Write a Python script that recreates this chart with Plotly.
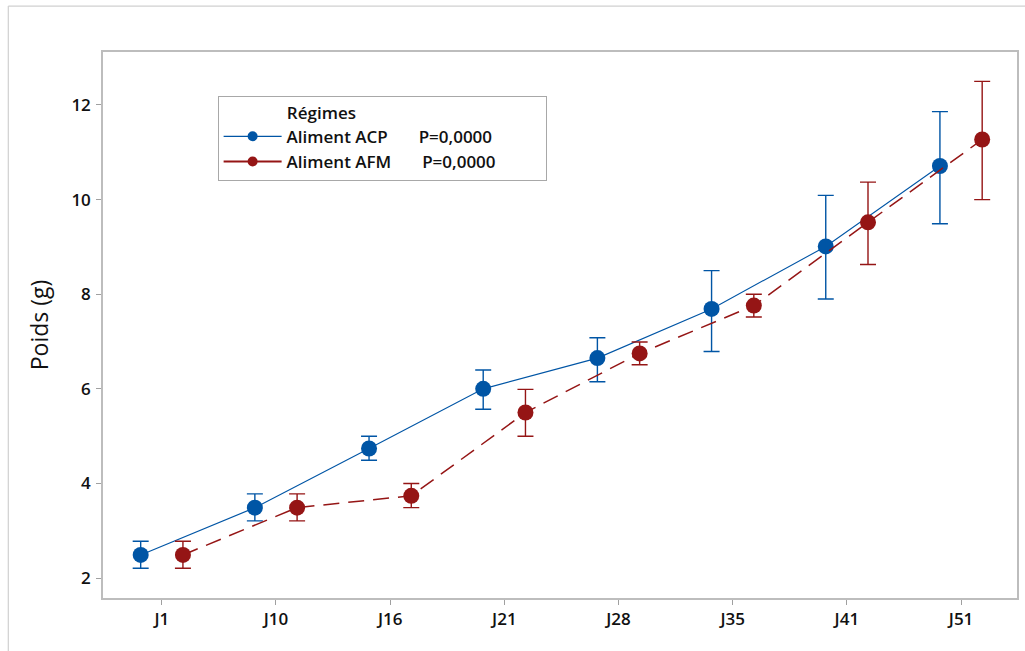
import plotly.graph_objects as go

# Sampling days
jours = ["J1", "J10", "J16", "J21", "J28", "J35", "J41", "J51"]

# Mean body weight (g) and interval bounds for each diet
acp_moy = [2.49, 3.49, 4.74, 6.00, 6.65, 7.69, 9.01, 10.71]
acp_haut = [2.78, 3.78, 5.00, 6.40, 7.08, 8.50, 10.09, 11.86]
acp_bas = [2.21, 3.21, 4.49, 5.57, 6.15, 6.79, 7.90, 9.49]

afm_moy = [2.49, 3.49, 3.74, 5.50, 6.75, 7.76, 9.52, 11.27]
afm_haut = [2.78, 3.78, 4.00, 5.99, 6.99, 8.00, 10.37, 12.50]
afm_bas = [2.21, 3.21, 3.49, 5.00, 6.51, 7.52, 8.63, 10.00]

y_ticks = [2, 4, 6, 8, 10, 12]

BLEU = "#0055A5"
ROUGE = "#951515"
NBSP = "\u00a0"

FONT = "Open Sans"
TXT = "#111111"


def intervalle(moy, haut, bas):
    return dict(
        type="data",
        symmetric=False,
        array=[h - m for h, m in zip(haut, moy)],
        arrayminus=[m - b for m, b in zip(moy, bas)],
        thickness=1.4,
        width=8,
    )


fig = go.Figure()

# Interval plot: means joined per diet, dodged within each day
fig.add_trace(go.Scatter(
    x=jours, y=acp_moy,
    mode="lines+markers",
    offsetgroup="acp",
    showlegend=False,
    line=dict(color=BLEU, width=1.1),
    marker=dict(color=BLEU, size=16),
    error_y=dict(color=BLEU, **intervalle(acp_moy, acp_haut, acp_bas)),
))

fig.add_trace(go.Scatter(
    x=jours, y=afm_moy,
    mode="lines+markers",
    offsetgroup="afm",
    showlegend=False,
    line=dict(color=ROUGE, width=1.5, dash="16px,9px"),
    marker=dict(color=ROUGE, size=16),
    error_y=dict(color=ROUGE, **intervalle(afm_moy, afm_haut, afm_bas)),
))

# Legend keys (smaller symbols, solid key lines)
fig.add_trace(go.Scatter(
    x=[None], y=[None],
    mode="lines+markers",
    offsetgroup="acp",
    name="Aliment ACP" + NBSP * 7 + "P=0,0000",
    line=dict(color=BLEU, width=1.1),
    marker=dict(color=BLEU, size=10),
))
fig.add_trace(go.Scatter(
    x=[None], y=[None],
    mode="lines+markers",
    offsetgroup="afm",
    name="Aliment AFM" + NBSP * 7 + "P=0,0000" + NBSP * 10,
    line=dict(color=ROUGE, width=2),
    marker=dict(color=ROUGE, size=10),
))

# Outer frame of the graph window
frame = "#D0D0D0"
fig.add_shape(type="line", xref="paper", yref="paper",
              x0=-0.1036, x1=1.01, y0=1.0842, y1=1.0842,
              line=dict(color=frame, width=1.2))
fig.add_shape(type="line", xref="paper", yref="paper",
              x0=-0.1036, x1=-0.1036, y0=-0.1, y1=1.0842,
              line=dict(color=frame, width=1.2))

fig.update_layout(
    width=1025,
    height=651,
    margin=dict(l=103, r=6, t=52, b=53),
    paper_bgcolor="white",
    plot_bgcolor="white",
    scattermode="group",
    scattergap=0.26,
    font=dict(family=FONT, color=TXT),
    showlegend=True,
    legend=dict(
        x=0.1254, y=0.92, xanchor="left", yanchor="top",
        bgcolor="white",
        bordercolor="#A8A8A8", borderwidth=1,
        font=dict(family=FONT, size=17, weight=600, color=TXT),
        title=dict(text=NBSP * 15 + "Régimes",
                   font=dict(family=FONT, size=17, weight=600, color=TXT)),
        itemwidth=58,
        tracegroupgap=0,
    ),
    xaxis=dict(
        type="category",
        categoryorder="array",
        categoryarray=jours,
        range=[-0.515, 7.49],
        showgrid=False,
        zeroline=False,
        showline=True, linecolor="#BDBDBD", linewidth=1.5, mirror=True,
        ticks="outside", ticklen=5, tickcolor="#A0A0A0", tickwidth=1,
        tickfont=dict(family=FONT, size=17, weight=600, color=TXT),
    ),
    yaxis=dict(
        range=[1.58, 13.12],
        tickvals=y_ticks,
        showgrid=False,
        zeroline=False,
        showline=True, linecolor="#BDBDBD", linewidth=1.5, mirror=True,
        ticks="outside", ticklen=5, tickcolor="#A0A0A0", tickwidth=1,
        ticklabelstandoff=2,
        tickfont=dict(family=FONT, size=17, weight=600, color=TXT),
        title=dict(text="Poids (g)", standoff=16,
                   font=dict(family=FONT, size=23, weight=500, color=TXT)),
    ),
)

fig.write_html("out.html")
